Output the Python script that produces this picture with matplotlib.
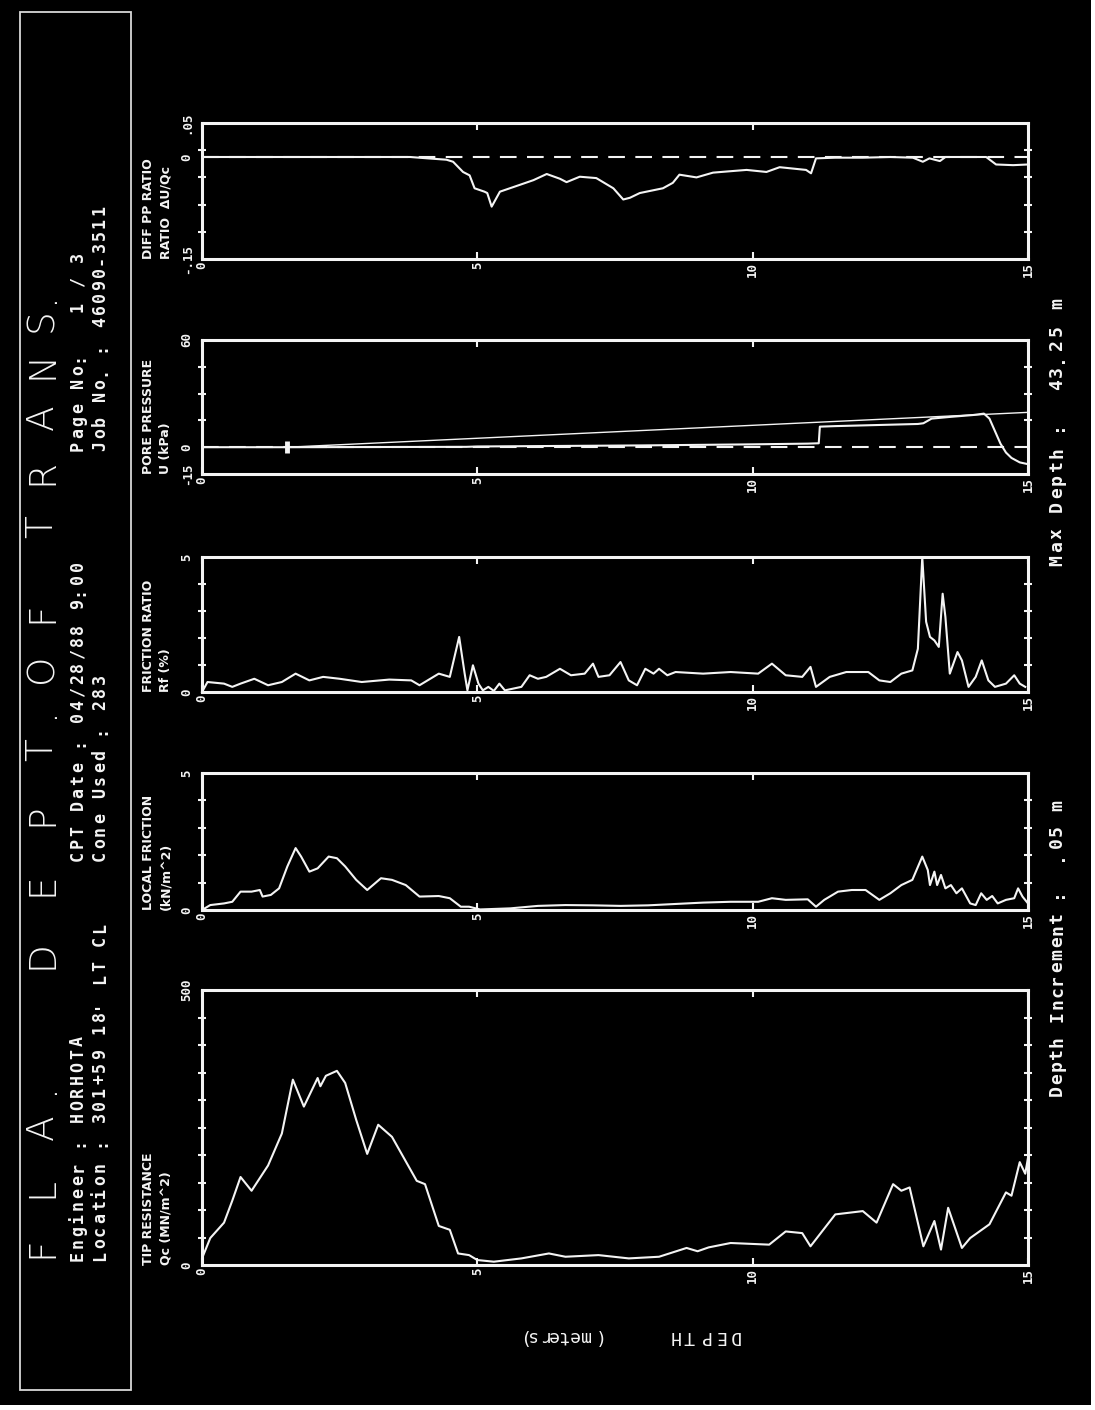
import numpy as np
import matplotlib
matplotlib.use("Agg")
import matplotlib.pyplot as plt
from matplotlib.patches import Rectangle

# ---------------- data ----------------
depth_ticks = [0, 5, 10, 15]
depth_tick_labels = ["0", "5", "10", "15"]

dpr_depth = [0, 3.78, 4.1, 4.44, 4.56, 4.74, 4.86, 4.95, 5.13, 5.18, 5.26, 5.41, 5.59, 5.77,
             6.02, 6.26, 6.5, 6.62, 6.86, 7.16, 7.47, 7.65, 7.77, 7.95, 8.13, 8.37, 8.55,
             8.67, 8.98, 9.28, 9.58, 9.89, 10.25, 10.49, 10.97, 11.06, 11.15, 11.5, 12.0,
             12.5, 12.91, 13.09, 13.21, 13.4, 13.5, 14.24, 14.42, 14.73, 15.0]
dpr_value = [0, 0, -0.002, -0.004, -0.007, -0.022, -0.027, -0.046, -0.051, -0.053, -0.073,
             -0.051, -0.046, -0.041, -0.034, -0.025, -0.032, -0.037, -0.029, -0.031, -0.046,
             -0.0625, -0.06, -0.053, -0.05, -0.046, -0.038, -0.026, -0.03, -0.023, -0.021,
             -0.019, -0.022, -0.015, -0.019, -0.024, -0.002, -0.001, -0.001, 0.0, -0.001,
             -0.007, -0.002, -0.006, 0.0, 0.0, -0.011, -0.012, -0.011]

pp_depth = [0, 1.55, 4.8, 5.0, 6.0, 7.0, 8.0, 9.0, 10.0, 11.0, 11.2, 11.22, 11.5, 12.0,
            12.5, 13.0, 13.1, 13.25, 13.6, 14.0, 14.2, 14.3, 14.4, 14.5, 14.6, 14.7,
            14.85, 15.0]
pp_value = [0, 0, 0.2, 0.4, 0.6, 0.8, 1.0, 1.3, 1.6, 2.0, 2.2, 11.5, 11.8, 12.2, 12.6,
            13.0, 13.4, 16.0, 17.0, 18.0, 18.8, 16.0, 9.0, 2.0, -3.0, -6.0, -8.5, -9.5]
hydro_depth = [1.55, 15.0]
hydro_value = [0.0, 19.5]

fr_depth = [0.0, 0.10, 0.40, 0.55, 0.70, 0.95, 1.20, 1.45, 1.70, 1.95, 2.20, 2.50, 2.90,
            3.40, 3.80, 3.95, 4.30, 4.50, 4.67, 4.77, 4.82, 4.92, 5.02, 5.10, 5.20, 5.30,
            5.40, 5.50, 5.80, 5.95, 6.10, 6.25, 6.50, 6.70, 6.95, 7.10, 7.20, 7.40, 7.60,
            7.75, 7.90, 8.05, 8.20, 8.30, 8.45, 8.60, 9.10, 9.60, 10.10, 10.35, 10.60,
            10.90, 11.05, 11.15, 11.40, 11.70, 12.10, 12.30, 12.50, 12.70, 12.90, 13.00,
            13.08, 13.15, 13.22, 13.30, 13.38, 13.45, 13.50, 13.58, 13.72, 13.80, 13.92,
            14.05, 14.16, 14.28, 14.40, 14.60, 14.75, 14.85, 14.95]
fr_value = [0.0, 0.37, 0.31, 0.19, 0.31, 0.49, 0.25, 0.37, 0.68, 0.43, 0.56, 0.49, 0.37,
            0.46, 0.43, 0.25, 0.68, 0.56, 2.04, 0.68, 0.06, 0.99, 0.31, 0.06, 0.19, 0.04,
            0.31, 0.06, 0.19, 0.62, 0.49, 0.56, 0.86, 0.62, 0.68, 1.05, 0.56, 0.62, 1.11,
            0.43, 0.25, 0.86, 0.68, 0.86, 0.62, 0.74, 0.68, 0.74, 0.68, 1.05, 0.62, 0.56,
            0.93, 0.19, 0.56, 0.74, 0.74, 0.43, 0.37, 0.68, 0.80, 1.6,
            5.0, 2.6, 2.04, 1.91, 1.67, 3.64, 2.78, 0.68, 1.48, 1.17, 0.19, 0.56, 1.17, 0.43,
            0.19, 0.31, 0.62, 0.31, 0.19]

lf_depth = [0.0, 0.15, 0.40, 0.55, 0.70, 0.90, 1.05, 1.10, 1.25, 1.40, 1.55, 1.70, 1.80,
            1.95, 2.10, 2.30, 2.45, 2.60, 2.80, 3.00, 3.25, 3.45, 3.70, 3.95, 4.30, 4.50,
            4.70, 4.85, 5.05, 5.60, 6.10, 6.60, 7.10, 7.60, 8.10, 8.60, 9.10, 9.60, 10.10,
            10.35, 10.60, 11.00, 11.15, 11.30, 11.55, 11.80, 12.05, 12.30, 12.50, 12.70,
            12.90, 13.08, 13.18, 13.22, 13.30, 13.35, 13.42, 13.50, 13.60, 13.70, 13.80,
            13.95, 14.05, 14.15, 14.25, 14.35, 14.45, 14.60, 14.75, 14.82, 14.90, 15.00]
lf_value = [0.0, 0.18, 0.24, 0.30, 0.67, 0.67, 0.73, 0.49, 0.55, 0.79, 1.59, 2.26, 1.95,
            1.40, 1.52, 1.95, 1.89, 1.59, 1.10, 0.73, 1.16, 1.10, 0.91, 0.49, 0.51, 0.43,
            0.12, 0.12, 0.02, 0.06, 0.15, 0.18, 0.17, 0.15, 0.17, 0.22, 0.27, 0.30, 0.30,
            0.43, 0.37, 0.39, 0.12, 0.37, 0.67, 0.73, 0.73, 0.37, 0.61, 0.91, 1.10, 1.95,
            1.46, 0.91, 1.40, 0.91, 1.28, 0.79, 0.91, 0.61, 0.79, 0.24, 0.18, 0.61, 0.37,
            0.51, 0.24, 0.37, 0.43, 0.79, 0.49, 0.24]

qc_depth = [0.00, 0.15, 0.40, 0.55, 0.70, 0.90, 1.20, 1.45, 1.65, 1.85, 2.10, 2.15, 2.25,
            2.45, 2.60, 2.80, 3.00, 3.20, 3.45, 3.90, 4.05, 4.30, 4.50, 4.65, 4.85, 5.00,
            5.30, 5.80, 6.30, 6.60, 7.20, 7.75, 8.30, 8.80, 9.00, 9.20, 9.60, 10.30, 10.60,
            10.90, 11.05, 11.50, 12.00, 12.25, 12.55, 12.70, 12.85, 13.10, 13.30, 13.42,
            13.55, 13.80, 13.95, 14.30, 14.60, 14.70, 14.85, 14.95, 15.00]
qc_value = [12, 49, 77, 117, 160, 135, 181, 239, 337, 288, 340, 325, 344, 353, 331, 264,
            202, 255, 233, 153, 147, 71, 64, 21, 18, 9, 6, 12, 21, 15, 18, 12, 15, 31, 25,
            32, 40, 37, 61, 58, 34, 92, 98, 77, 147, 135, 141, 34, 80, 28, 104, 31, 49, 74,
            132, 126, 187, 166, 195]

# ---------------- figure ----------------
W, H = 1095, 1410
fig = plt.figure(figsize=(W / 100, H / 100), dpi=100, facecolor="white")
fig.add_artist(Rectangle((0, 5 / H), 1091 / W, 1 - 5 / H, transform=fig.transFigure,
                         facecolor="black", edgecolor="none", zorder=-10))


def fx(x):
    return x / W


def fy(y):
    return 1 - y / H


WHITE = "#f4f4f4"
mono = ["DejaVu Sans Mono"]
narrow = ["Liberation Sans Narrow", "DejaVu Sans"]


def spaced(x, y0, s, pitch, rot=90, **kw):
    """Fixed-pitch plotter-style text, one character at a time."""
    for i, ch in enumerate(s):
        if ch == " ":
            continue
        if rot == 90:
            fig.text(fx(x), fy(y0 - (i + 0.5) * pitch), ch, rotation=90,
                     ha="center", va="center", **kw)
        else:
            fig.text(fx(y0 - (i + 0.5) * pitch), fy(x), ch, rotation=180,
                     ha="center", va="center", **kw)


# header box
fig.add_artist(Rectangle((fx(20), fy(1390)), fx(131) - fx(20), (1390 - 12) / H,
                         transform=fig.transFigure, facecolor="none", edgecolor="#d8d8d8",
                         lw=1.3, zorder=1))

title_chars = ["F", "L", "A", ".", "D", "E", "P", "T", ".", "O", "F",
               "T", "R", "A", "N", "S", "."]
title_pos = [1247, 1188, 1127, 1088, 955, 884, 815, 750, 712, 668, 612,
             527, 472, 417, 365, 320, 297]
for ch, yy in zip(title_chars, title_pos):
    fig.text(fx(42), fy(yy), ch, rotation=90, ha="center", va="center", color=WHITE,
             fontsize=27, family=["DejaVu Sans"], fontweight="ultralight")

hdr_kw = dict(color=WHITE, fontsize=12, family=mono, fontweight="bold")
spaced(78, 1262, "Engineer : HORHOTA", 12.6, **hdr_kw)
spaced(100, 1262, "Location : 301+59 18' LT CL", 12.6, **hdr_kw)
spaced(78, 862, "CPT Date : 04/28/88 9:00", 12.6, **hdr_kw)
spaced(100, 862, "Cone Used : 283", 12.6, **hdr_kw)
spaced(78, 452, "Page No:   1 / 3", 12.6, **hdr_kw)
spaced(100, 452, "Job No. : 46090-3511", 12.4, **hdr_kw)

panels = [
    (123, 259, (-0.15, 0.05), np.linspace(-0.15, 0.05, 6), ([0.05, 0.0, -0.15], [".05", "0", "-.15"]),
     ("DIFF PP RATIO", "RATIO  \u0394U/Qc")),
    (340, 474, (-15, 60), np.linspace(-15, 60, 6), ([60, 0, -15], ["60", "0", "-15"]),
     ("PORE PRESSURE", "U (kPa)")),
    (557, 692, (0, 5), np.linspace(0, 5, 6), ([5, 0], ["5", "0"]),
     ("FRICTION RATIO", "Rf (%)")),
    (773, 910, (0, 5), np.linspace(0, 5, 6), ([5, 0], ["5", "0"]),
     ("LOCAL FRICTION", "(kN/m^2)")),
    (990, 1265, (0, 500), np.linspace(0, 500, 11), ([500, 0], ["500", "0"]),
     ("TIP RESISTANCE", "Qc (MN/m^2)")),
]

axes = []
for top, bot, ylim, minor, (lv, lt), (t1, t2) in panels:
    ax = fig.add_axes([fx(202), fy(bot), fx(1028) - fx(202), (bot - top) / H])
    ax.set_facecolor("black")
    ax.set_xlim(0, 15)
    ax.set_ylim(*ylim)
    for sp in ax.spines.values():
        sp.set_color(WHITE)
        sp.set_linewidth(2.2)
    ax.set_xticks(depth_ticks)
    ax.set_xticklabels(depth_tick_labels, rotation=90, fontsize=9, fontweight="bold",
                       color=WHITE, family=mono)
    ax.tick_params(axis="x", which="both", direction="in", length=5, width=1.5,
                   color=WHITE, top=True, bottom=True, pad=2)
    ax.set_yticks(lv)
    ax.set_yticklabels(lt, rotation=90, fontsize=9, fontweight="bold", color=WHITE,
                       family=mono, va="center")
    ax.set_yticks(minor, minor=True)
    ax.tick_params(axis="y", which="both", direction="inout", length=6, width=1.5,
                   color=WHITE, left=True, right=True, pad=6)
    ax.tick_params(axis="y", which="major", length=0)
    fig.text(fx(148), fy(bot), t1, rotation=90, ha="center", va="bottom", color=WHITE,
             fontsize=9, family=narrow, fontweight="bold")
    fig.text(fx(166), fy(bot), t2, rotation=90, ha="center", va="bottom", color=WHITE,
             fontsize=9, family=narrow, fontweight="bold")
    axes.append(ax)

lw = 1.5
ax1, ax2, ax3, ax4, ax5 = axes
ax1.plot([0, 15], [0, 0], color=WHITE, lw=1.5, ls=(0, (8, 5)))
ax1.plot(dpr_depth, dpr_value, color=WHITE, lw=lw)
ax2.plot([0, 15], [0, 0], color=WHITE, lw=1.5, ls=(0, (8, 5)))
ax2.plot(hydro_depth, hydro_value, color=WHITE, lw=1.0)
ax2.plot(pp_depth, pp_value, color=WHITE, lw=lw)
ax2.plot([hydro_depth[0]], [hydro_value[0]], marker="|", ms=9, color=WHITE, mew=3.5)
ax3.plot(fr_depth, fr_value, color=WHITE, lw=lw, clip_on=False)
ax4.plot(lf_depth, lf_value, color=WHITE, lw=lw)
ax5.plot(qc_depth, qc_value, color=WHITE, lw=lw)

# upside-down depth caption
foot_kw = dict(color=WHITE, fontsize=13, family=mono)
spaced(1336, 600, "(meters)", 10.6, rot=180, **foot_kw)
spaced(1336, 742, "DEPTH", 15.0, rot=180, **foot_kw)

side_kw = dict(color=WHITE, fontsize=13, family=mono, fontweight="bold")
spaced(1057, 1097, "Depth Increment :  .05 m", 12.4, **side_kw)
spaced(1057, 567, "Max Depth :  43.25 m", 13.5, **side_kw)

fig.savefig("out.png", dpi=100, facecolor=fig.get_facecolor())
